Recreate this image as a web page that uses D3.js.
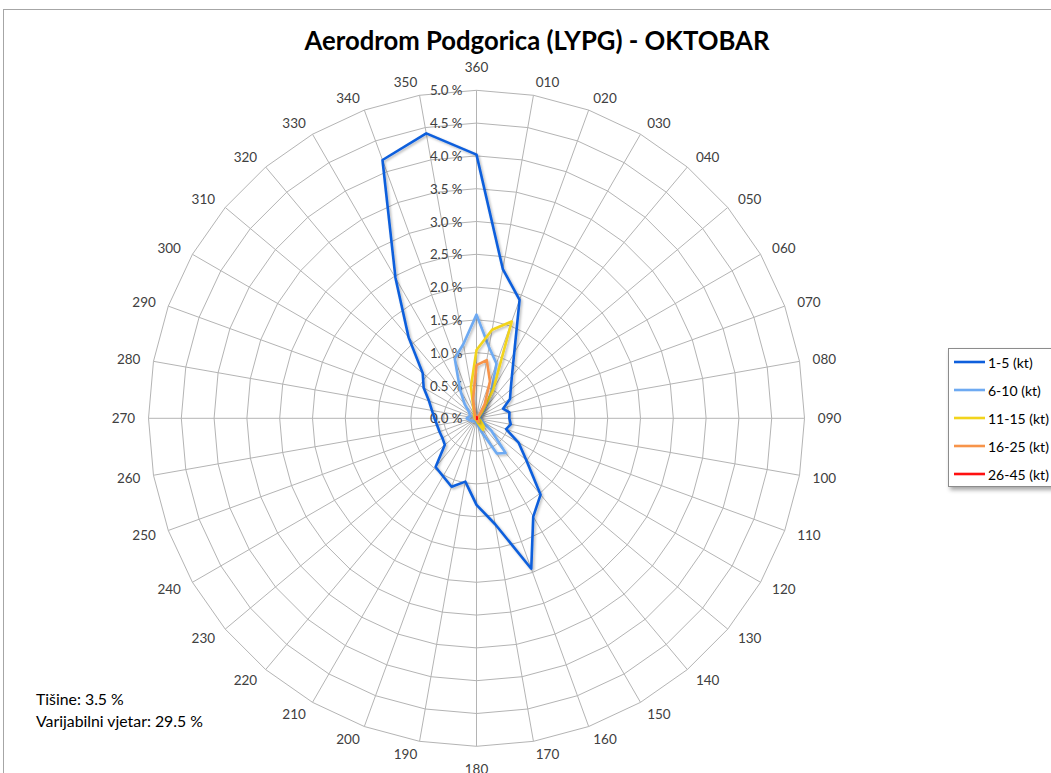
<!DOCTYPE html>
<html><head><meta charset="utf-8">
<script src="https://cdn.jsdelivr.net/npm/d3@7"></script>
<style>
body{margin:0;background:#fff;}
text{font-family:Lato,"Open Sans","DejaVu Sans",sans-serif;}
</style>
</head><body>
<svg id="chart" width="1051" height="773"></svg>
<script>
// ---------- DATA ----------
const categories = ["360","010","020","030","040","050","060","070","080","090","100","110",
  "120","130","140","150","160","170","180","190","200","210","220","230",
  "240","250","260","270","280","290","300","310","320","330","340","350"];
const tickValues = [0,0.5,1,1.5,2,2.5,3,3.5,4,4.5,5];
const seriesNames = ["1-5 (kt)","6-10 (kt)","11-15 (kt)","16-25 (kt)","26-45 (kt)"];
const kt1_5 = [4.02,2.31,1.92,1.15,0.84,0.68,0.59,0.43,0.51,0.50,0.53,0.48,
  0.74,0.99,1.52,1.73,2.44,1.64,1.32,0.98,1.11,1.02,0.97,0.63,
  0.60,0.60,0.61,0.64,0.69,0.77,0.93,1.07,1.61,2.47,4.19,4.41];
const kt6_10 = [1.58,1.10,0.89,0.45,0.22,0.12,0.08,0.06,0.05,0.05,0.06,0.08,
  0.12,0.30,0.69,0.62,0.22,0.10,0.07,0.05,0.05,0.05,0.06,0.07,
  0.08,0.10,0.12,0.15,0.12,0.10,0.12,0.15,0.28,0.50,0.97,1.15];
const kt11_15 = [1.04,1.37,1.57,0.51,0.15,0.06,0.04,0.03,0.03,0.03,0.04,0.05,
  0.07,0.10,0.17,0.20,0.08,0.04,0.03,0.02,0.02,0.02,0.02,0.02,
  0.02,0.02,0.02,0.02,0.02,0.02,0.03,0.04,0.05,0.07,0.12,0.49];
const kt16_25 = [0.81,0.90,0.60,0.25,0.07,0.03,0.02,0.01,0.01,0.01,0.01,0.02,
  0.02,0.03,0.05,0.06,0.03,0.01,0.01,0.01,0.01,0.01,0.01,0.01,
  0.01,0.01,0.01,0.01,0.01,0.01,0.01,0.01,0.02,0.03,0.08,0.30];
const kt26_45 = [0.02,0.02,0.01,0.01,0.01,0,0,0,0,0,0,0,
  0,0,0.01,0.01,0,0,0,0,0,0,0,0,
  0,0,0,0,0,0,0,0,0,0,0.01,0.01];
const seriesValues = [kt1_5, kt6_10, kt11_15, kt16_25, kt26_45];
const seriesColors = ["#0e5fdc","#6eaaf2","#f2d41c","#f7944a","#ff1010"];
const titleText = "Aerodrom Podgorica (LYPG) - OKTOBAR";
const notes = ["Tišine: 3.5 %","Varijabilni vjetar: 29.5 %"];

// ---------- LAYOUT ----------
const svg = d3.select("#chart");
const cx = 476.5, cy = 418.3, R = 328;

const defs = svg.append("defs");
const f1 = defs.append("filter").attr("id","lineShadow").attr("x","-20%").attr("y","-20%").attr("width","140%").attr("height","140%");
f1.append("feDropShadow").attr("dx",1.5).attr("dy",1.5).attr("stdDeviation",1).attr("flood-color","#000").attr("flood-opacity",0.28);
const f2 = defs.append("filter").attr("id","boxShadow").attr("x","-20%").attr("y","-20%").attr("width","150%").attr("height","150%");
f2.append("feDropShadow").attr("dx",2).attr("dy",3).attr("stdDeviation",2).attr("flood-color","#000").attr("flood-opacity",0.35);

// chart border
svg.append("rect").attr("x",3.5).attr("y",9.5).attr("width",1100).attr("height",800)
  .attr("fill","#fff").attr("stroke","#a6a6a6").attr("stroke-width",1);

const angle = d3.scaleBand().domain(categories).range([0, 2*Math.PI]).paddingInner(0).paddingOuter(0);
const r = d3.scaleLinear().domain([0,5]).range([0,R]);

const g = svg.append("g").attr("transform",`translate(${cx},${cy})`);

// grid rings
const ringLine = d3.lineRadial().angle(c=>angle(c)).curve(d3.curveLinearClosed);
g.append("g").selectAll("path").data(tickValues.filter(t=>t>0)).join("path")
  .attr("d", t => ringLine.radius(()=>r(t))(categories))
  .attr("fill","none").attr("stroke","#b4b4b4").attr("stroke-width",1);

// spokes
g.append("g").selectAll("line").data(categories).join("line")
  .attr("x1",0).attr("y1",0)
  .attr("x2",c=>r(5)*Math.sin(angle(c)))
  .attr("y2",c=>-r(5)*Math.cos(angle(c)))
  .attr("stroke","#b4b4b4").attr("stroke-width",1);

// radial tick labels
const fmt = d3.format(".1f");
g.append("g").selectAll("text").data(tickValues).join("text")
  .attr("x",-14).attr("y",t=>-r(t))
  .attr("text-anchor","end").attr("dominant-baseline","central")
  .attr("font-size",13.3).attr("fill","#404040")
  .text(t=>fmt(t)+" %");

// category labels (Excel-like anchoring)
const gap = 13.3;
g.append("g").selectAll("text").data(categories).join("text")
  .each(function(c){
    const a = angle(c), s = Math.sin(a), co = Math.cos(a);
    const tx = (R+gap)*s, ty = -(R+gap)*co;
    const el = d3.select(this);
    let anchor = "middle", dy = 0;
    if (Math.abs(s) < 1e-6) { dy = co > 0 ? -9.7 : 9.7; }
    else anchor = s > 0 ? "start" : "end";
    el.attr("x",tx).attr("y",ty+dy).attr("text-anchor",anchor);
  })
  .attr("dominant-baseline","central")
  .attr("font-size",13.5).attr("fill","#404040")
  .text(c=>c);

// series
const seriesLine = d3.lineRadial()
  .angle((d,i)=>angle(categories[i]))
  .radius(d=>r(d))
  .curve(d3.curveLinearClosed);
g.append("g").selectAll("path").data(seriesValues).join("path")
  .attr("d",d=>seriesLine(d))
  .attr("fill","none")
  .attr("stroke",(d,i)=>seriesColors[i])
  .attr("stroke-width",2.6)
  .attr("stroke-linejoin","round")
  .attr("filter","url(#lineShadow)");

// title
const title = svg.append("text").attr("x",537).attr("y",50)
  .attr("text-anchor","middle").attr("font-weight","bold").attr("font-size",24)
  .attr("fill","#000").text(titleText);
const tw = title.node().getComputedTextLength();
title.attr("font-size", 24*465/tw);

// notes
const noteG = svg.append("g");
noteG.selectAll("text").data(notes).join("text")
  .attr("x",36).attr("y",(d,i)=>698+i*22).attr("dominant-baseline","central")
  .attr("font-size",14).attr("fill","#000").text(d=>d);
const nw = noteG.selectAll("text").nodes()[1].getComputedTextLength();
noteG.selectAll("text").attr("font-size", 14*167/nw);

// legend
const lg = svg.append("g");
lg.append("rect").attr("x",948.5).attr("y",348.5).attr("width",130).attr("height",138)
  .attr("fill","#fff").attr("stroke","#8c8c8c").attr("stroke-width",1).attr("filter","url(#boxShadow)");
const items = lg.selectAll("g.item").data(seriesNames).join("g").attr("class","item")
  .attr("transform",(d,i)=>`translate(0,${362+i*28})`);
items.append("line").attr("x1",954).attr("x2",985).attr("y1",0).attr("y2",0)
  .attr("stroke",(d,i)=>seriesColors[i]).attr("stroke-width",2.6);
items.append("text").attr("x",988).attr("y",0).attr("dominant-baseline","central")
  .attr("font-size",14).attr("fill","#000").text(d=>d);
</script>
</body></html>
